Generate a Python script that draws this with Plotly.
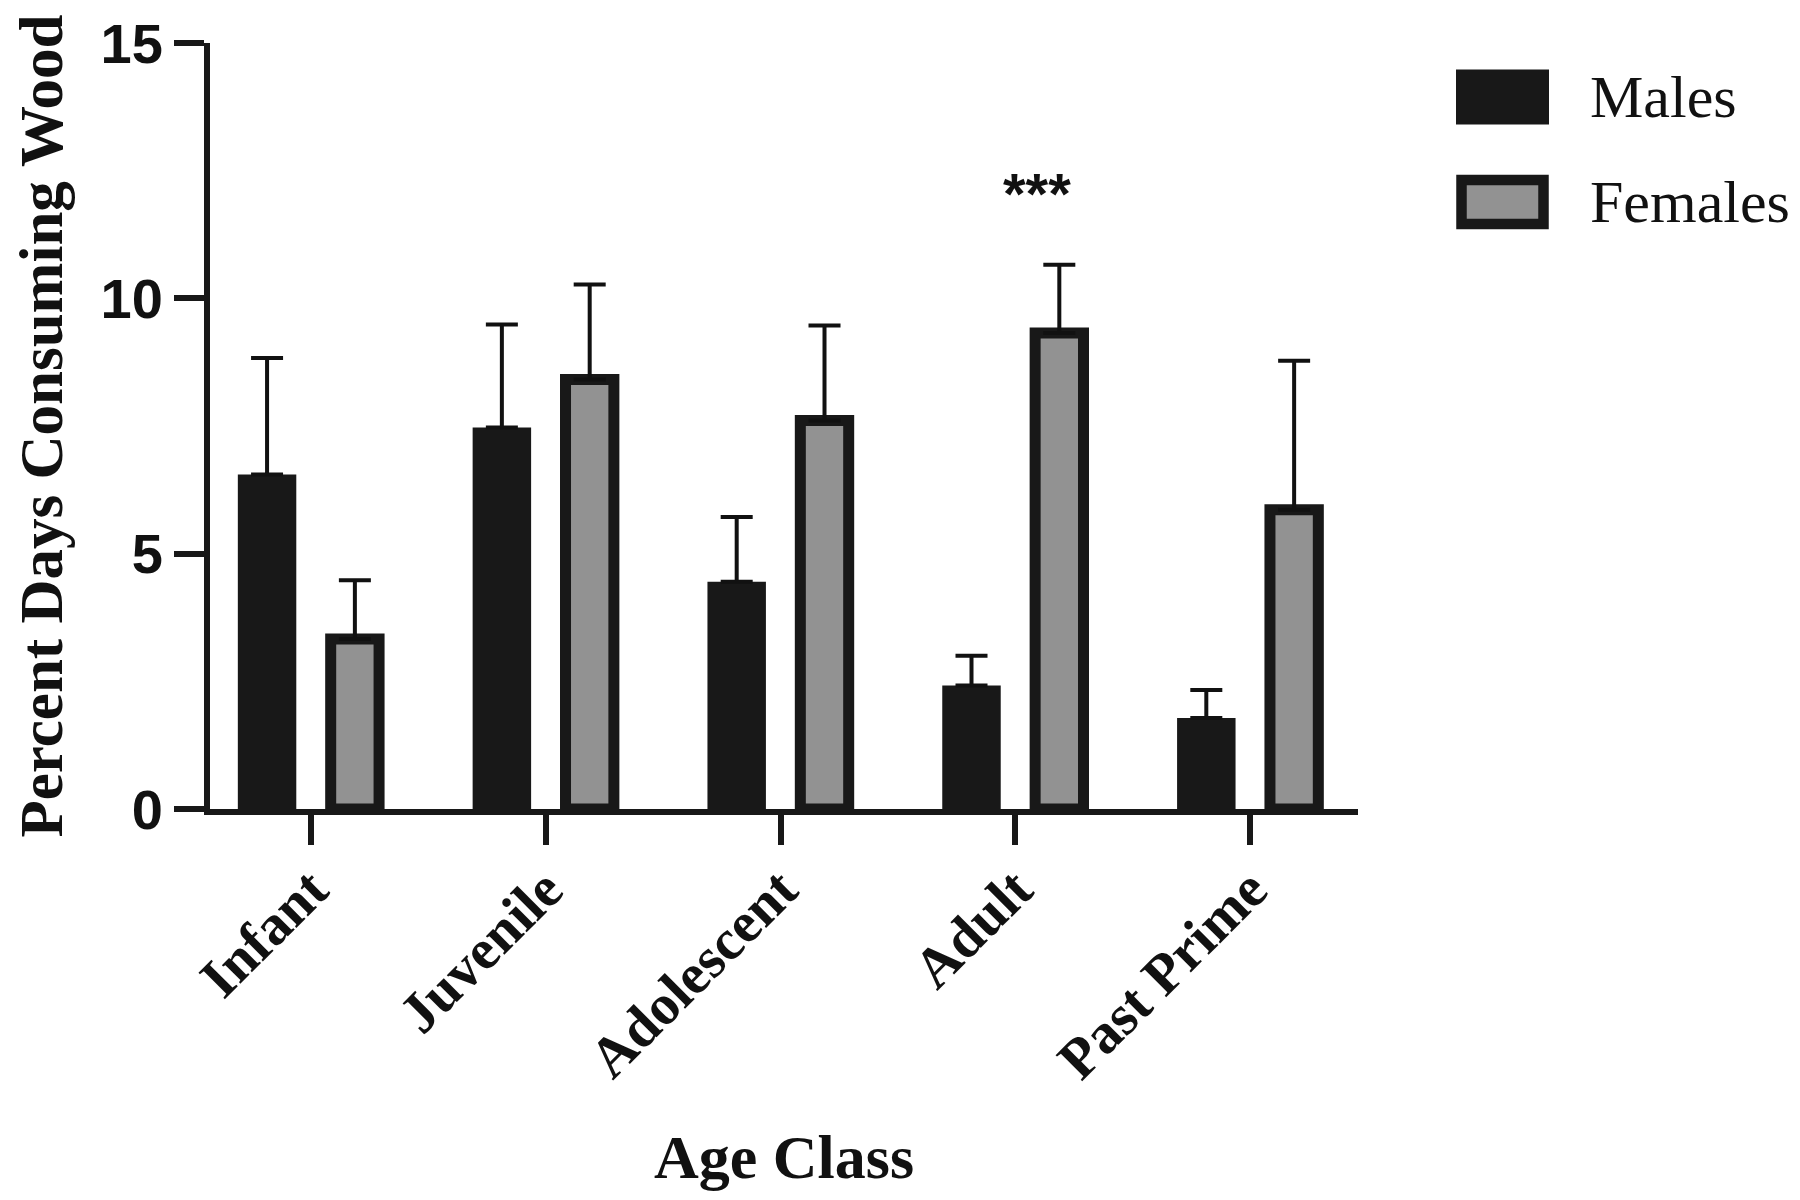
import plotly.graph_objects as go

# ---- data ----
age_classes = ["Infant", "Juvenile", "Adolescent", "Adult", "Past Prime"]
males_mean = [6.55, 7.47, 4.45, 2.42, 1.78]
males_sem = [2.28, 2.02, 1.27, 0.58, 0.55]
females_mean = [3.33, 8.41, 7.61, 9.32, 5.86]
females_sem = [1.15, 1.86, 1.86, 1.34, 2.92]
series_names = ["Males", "Females"]
y_ticks = [0, 5, 10, 15]
signif_label = "***"
signif_category = "Adult"
signif_y = 12.05

# ---- style ----
DARK = "#181818"
GREY = "#929292"
TXT = "#111111"
SERIF = "Liberation Serif, Times New Roman, serif"
SANS = "Liberation Sans, Arial, sans-serif"

OFF = 8  # page body margin
W, H = 1800 - OFF, 1200 - OFF
# plot area in page pixels
PL, PR, PT, PB = 210, 1358, 42.5, 809
L, R, T, B = PL - OFF, PR - OFF, PT - OFF, PB - OFF


def px_x(p):
    return (p - PL) / (PR - PL)


def px_y(p):
    return (PB - p) / (PB - PT)


fig = go.Figure()

fig.add_trace(go.Bar(
    x=age_classes, y=males_mean, name=series_names[0],
    width=0.249, offset=-0.3115,
    marker=dict(color=DARK, line=dict(width=0)),
    error_y=dict(type="data", array=males_sem, arrayminus=[0] * len(males_sem),
                 symmetric=False, color=TXT, thickness=4, width=16),
    showlegend=False,
))
fig.add_trace(go.Bar(
    x=age_classes, y=females_mean, name=series_names[1],
    width=0.206, offset=0.084,
    marker=dict(color=GREY, line=dict(width=11, color=DARK)),
    error_y=dict(type="data", array=females_sem, arrayminus=[0] * len(females_sem),
                 symmetric=False, color=TXT, thickness=4, width=16),
    showlegend=False,
))

sig_idx = age_classes.index(signif_category) + 0.093
fig.add_annotation(x=sig_idx, y=signif_y, xref="x", yref="y", text=signif_label,
                   showarrow=False, font=dict(family=SANS, size=58, color=TXT, weight="bold"),
                   xanchor="center", yanchor="middle")

# manual legend (large boxes as in the reference)
fig.add_shape(type="rect", xref="paper", yref="paper",
              x0=px_x(1456), x1=px_x(1549), y0=px_y(124), y1=px_y(69),
              fillcolor=DARK, line=dict(width=0))
fig.add_shape(type="rect", xref="paper", yref="paper",
              x0=px_x(1461.5), x1=px_x(1543.5), y0=px_y(223.5), y1=px_y(179.5),
              fillcolor=GREY, line=dict(width=10.5, color=DARK))
for name, yc in zip(series_names, [97, 202]):
    fig.add_annotation(x=px_x(1588), y=px_y(yc), xref="paper", yref="paper",
                       text=name, showarrow=False, xanchor="left", yanchor="middle",
                       font=dict(family=SERIF, size=60, color=TXT))

fig.update_layout(
    width=W, height=H,
    margin=dict(l=L, r=W - R, t=T, b=H - B, autoexpand=False),
    paper_bgcolor="white", plot_bgcolor="white",
    barmode="overlay",
    showlegend=False,
)
fig.update_xaxes(
    type="category", range=[-0.43, 4.459],
    showline=True, linewidth=6, linecolor=DARK,
    ticks="outside", ticklen=30, tickwidth=6, tickcolor=DARK,
    tickangle=-45, tickfont=dict(family=SERIF, size=57, color=TXT, weight="bold"),
    ticklabelstandoff=-12,
    showgrid=False, zeroline=False,
    title=dict(text="Age Class", font=dict(family=SERIF, size=62, color=TXT, weight="bold"),
               standoff=47),
    automargin=False,
)
fig.update_yaxes(
    range=[0, 15], tickvals=y_ticks,
    showline=True, linewidth=6, linecolor=DARK,
    ticks="outside", ticklen=30, tickwidth=6, tickcolor=DARK,
    tickfont=dict(family=SANS, size=56, color=TXT, weight="bold"),
    showgrid=False, zeroline=False,
    title=dict(text="Percent Days Consuming Wood",
               font=dict(family=SERIF, size=61, color=TXT, weight="bold"), standoff=30),
    automargin=False,
)

fig.write_html("out.html")
